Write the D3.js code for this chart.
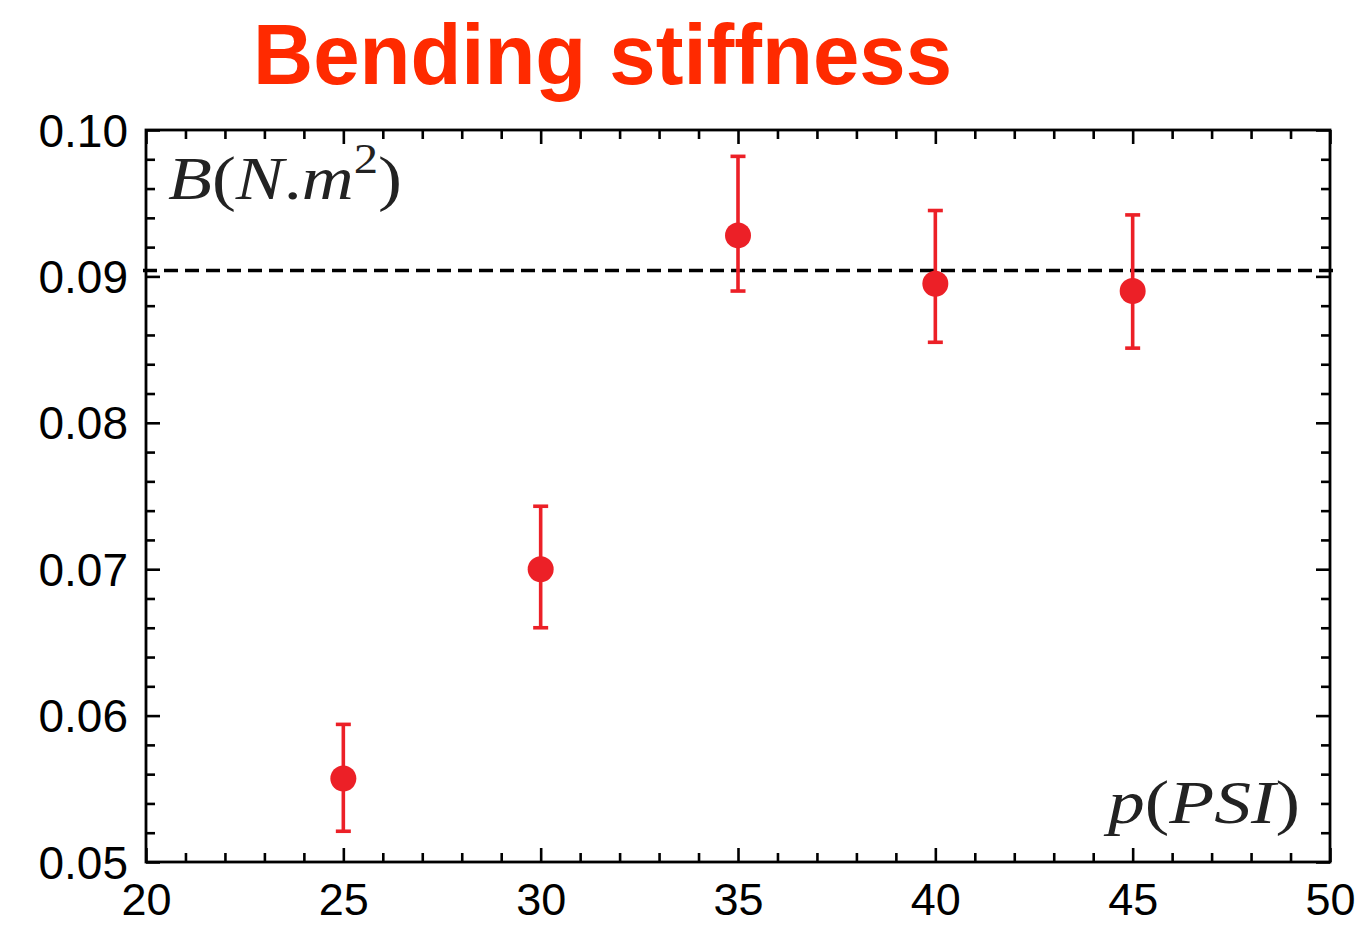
<!DOCTYPE html>
<html>
<head>
<meta charset="utf-8">
<script src="https://cdn.jsdelivr.net/npm/d3@7"></script>
<style>
  html, body { margin: 0; padding: 0; background: #fff; }
  svg { display: block; }
</style>
</head>
<body>
<svg id="chart" width="1368" height="928"></svg>
<script>
// Pressure (PSI) and measured bending stiffness B (N·m²) with error bounds
const pressure = [25, 30, 35, 40, 45];
const stiffness = [0.0557, 0.0700, 0.0928, 0.0895, 0.0890];
const errLower = [0.0521, 0.0660, 0.0890, 0.0855, 0.0851];
const errUpper = [0.0594, 0.0743, 0.0982, 0.0945, 0.0942];
const referenceLevel = 0.0904;

const xTicks = [20, 25, 30, 35, 40, 45, 50];
const yTicks = [0.05, 0.06, 0.07, 0.08, 0.09, 0.10];

const svg = d3.select("#chart");
const plotLeft = 146, plotRight = 1330, plotTop = 130, plotBottom = 862;

const x = d3.scaleLinear().domain([20, 50]).range([plotLeft, plotRight]);
const y = d3.scaleLinear().domain([0.05, 0.10]).range([plotBottom, plotTop]);

const red = "#ec2027";
const tickFont = "'Liberation Sans', Arial, Helvetica, sans-serif";

// Title
svg.append("text")
  .attr("x", 253).attr("y", 84)
  .attr("font-family", tickFont)
  .attr("font-weight", "bold")
  .attr("font-size", 85)
  .attr("fill", "#ff2a00")
  .attr("textLength", 699)
  .attr("lengthAdjust", "spacingAndGlyphs")
  .text("Bending stiffness");

// Minor tick values
const xMinor = d3.range(20, 50.001, 1).filter(v => !xTicks.includes(v));
const yMinor = d3.range(0.05, 0.1001, 0.002).filter(v => !yTicks.some(t => Math.abs(t - v) < 1e-9));

const g = svg.append("g");

function drawTicks(axisGen, transform, majorLen, minorLen, minorVals, majorVals) {
  const gMaj = g.append("g").attr("transform", transform)
    .call(axisGen.tickValues(majorVals).tickSizeInner(majorLen).tickSizeOuter(0).tickFormat(""));
  const gMin = g.append("g").attr("transform", transform)
    .call(axisGen.tickValues(minorVals).tickSizeInner(minorLen).tickSizeOuter(0).tickFormat(""));
  [gMaj, gMin].forEach(s => {
    s.select(".domain").remove();
    s.selectAll("line").attr("stroke", "#000").attr("stroke-width", 2.6);
  });
}

// Inward ticks on all four sides
drawTicks(d3.axisTop(x), `translate(0,${plotBottom})`, 14, 9, xMinor, xTicks);
drawTicks(d3.axisBottom(x), `translate(0,${plotTop})`, 14, 9, xMinor, xTicks);
drawTicks(d3.axisRight(y), `translate(${plotLeft},0)`, 14, 9, yMinor, yTicks);
drawTicks(d3.axisLeft(y), `translate(${plotRight},0)`, 14, 9, yMinor, yTicks);

// Tick labels
const xLab = g.append("g").attr("transform", `translate(0,${plotBottom})`)
  .call(d3.axisBottom(x).tickValues(xTicks).tickSize(0).tickPadding(0).tickFormat(d3.format("d")));
xLab.select(".domain").remove();
xLab.selectAll("text")
  .attr("font-family", tickFont).attr("font-size", 45).attr("fill", "#000")
  .attr("dy", null).attr("y", 53);

const yLab = g.append("g").attr("transform", `translate(${plotLeft},0)`)
  .call(d3.axisLeft(y).tickValues(yTicks).tickSize(0).tickPadding(0).tickFormat(d3.format(".2f")));
yLab.select(".domain").remove();
yLab.selectAll("text")
  .attr("font-family", tickFont).attr("font-size", 46).attr("fill", "#000")
  .attr("dy", null).attr("y", 16).attr("x", -18);

// Reference level (dashed)
g.append("line")
  .attr("x1", x(20) - 3).attr("x2", x(50) + 3)
  .attr("y1", y(referenceLevel)).attr("y2", y(referenceLevel))
  .attr("stroke", "#000").attr("stroke-width", 3.6)
  .attr("stroke-dasharray", "14,7");

// Frame
g.append("rect")
  .attr("x", plotLeft).attr("y", plotTop)
  .attr("width", plotRight - plotLeft).attr("height", plotBottom - plotTop)
  .attr("fill", "none").attr("stroke", "#000").attr("stroke-width", 2.8);

// Error bars
const pts = pressure.map((p, i) => ({ p, v: stiffness[i], lo: errLower[i], hi: errUpper[i] }));
const eb = g.append("g").selectAll("g").data(pts).join("g");
eb.append("line")
  .attr("x1", d => x(d.p)).attr("x2", d => x(d.p))
  .attr("y1", d => y(d.lo)).attr("y2", d => y(d.hi))
  .attr("stroke", red).attr("stroke-width", 3.6);
eb.append("line")
  .attr("x1", d => x(d.p) - 7.5).attr("x2", d => x(d.p) + 7.5)
  .attr("y1", d => y(d.hi)).attr("y2", d => y(d.hi))
  .attr("stroke", red).attr("stroke-width", 3.6);
eb.append("line")
  .attr("x1", d => x(d.p) - 7.5).attr("x2", d => x(d.p) + 7.5)
  .attr("y1", d => y(d.lo)).attr("y2", d => y(d.lo))
  .attr("stroke", red).attr("stroke-width", 3.6);
eb.append("circle")
  .attr("cx", d => x(d.p)).attr("cy", d => y(d.v))
  .attr("r", 13).attr("fill", red);

// Axis annotations in math style
const mathFont = "'Liberation Serif', 'Times New Roman', serif";
const bLabel = svg.append("text")
  .attr("x", 168).attr("y", 199)
  .attr("font-family", mathFont).attr("font-size", 62).attr("fill", "#222")
  .attr("textLength", 234).attr("lengthAdjust", "spacingAndGlyphs");
bLabel.append("tspan").attr("font-style", "italic").text("B");
bLabel.append("tspan").text("(");
bLabel.append("tspan").attr("font-style", "italic").text("N");
bLabel.append("tspan").text(".");
bLabel.append("tspan").attr("font-style", "italic").text("m");
bLabel.append("tspan").attr("font-size", 42).attr("dy", -26).text("2");
bLabel.append("tspan").attr("dy", 26).text(")");

const pLabel = svg.append("text")
  .attr("x", 1108).attr("y", 823)
  .attr("font-family", mathFont).attr("font-size", 62).attr("fill", "#222")
  .attr("textLength", 192).attr("lengthAdjust", "spacingAndGlyphs");
pLabel.append("tspan").attr("font-style", "italic").text("p");
pLabel.append("tspan").text("(");
pLabel.append("tspan").attr("font-style", "italic").text("PSI");
pLabel.append("tspan").text(")");
</script>
</body>
</html>
